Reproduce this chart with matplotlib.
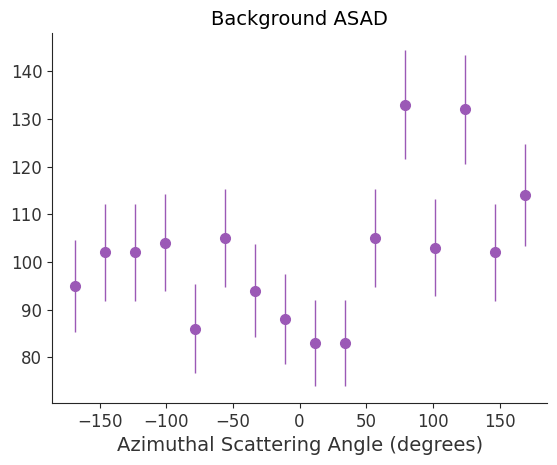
import numpy as np
import matplotlib
matplotlib.use("Agg")
import matplotlib.pyplot as plt
import seaborn as sns

# --- Data ---
angles = [-168.75, -146.25, -123.75, -101.25, -78.75, -56.25, -33.75, -11.25,
          11.25, 33.75, 56.25, 78.75, 101.25, 123.75, 146.25, 168.75]
counts = [95, 102, 102, 104, 86, 105, 94, 88, 83, 83, 105, 133, 103, 132, 102, 114]
errors = [9.7, 10.1, 10.1, 10.2, 9.3, 10.2, 9.7, 9.4, 9.1, 9.1, 10.2, 11.5, 10.1, 11.5, 10.1, 10.7]

sns.set_style("ticks")
plt.rcParams['font.family'] = ['DejaVu Sans']

fig = plt.figure(figsize=(5.57, 4.65), dpi=100)
ax = fig.add_axes([0.0934, 0.133, 0.889, 0.796])

ax.errorbar(angles, counts, yerr=errors, fmt='o', color='#9b59b6',
            markersize=7, elinewidth=1, capsize=0)

ax.set_title('Background ASAD', fontsize=14, color='black')
ax.set_xlabel('Azimuthal Scattering Angle (degrees)', fontsize=14, color='#333333')
ax.tick_params(labelsize=12, labelcolor='#333333')
sns.despine(ax=ax)

fig.savefig('out.png', dpi=100)
